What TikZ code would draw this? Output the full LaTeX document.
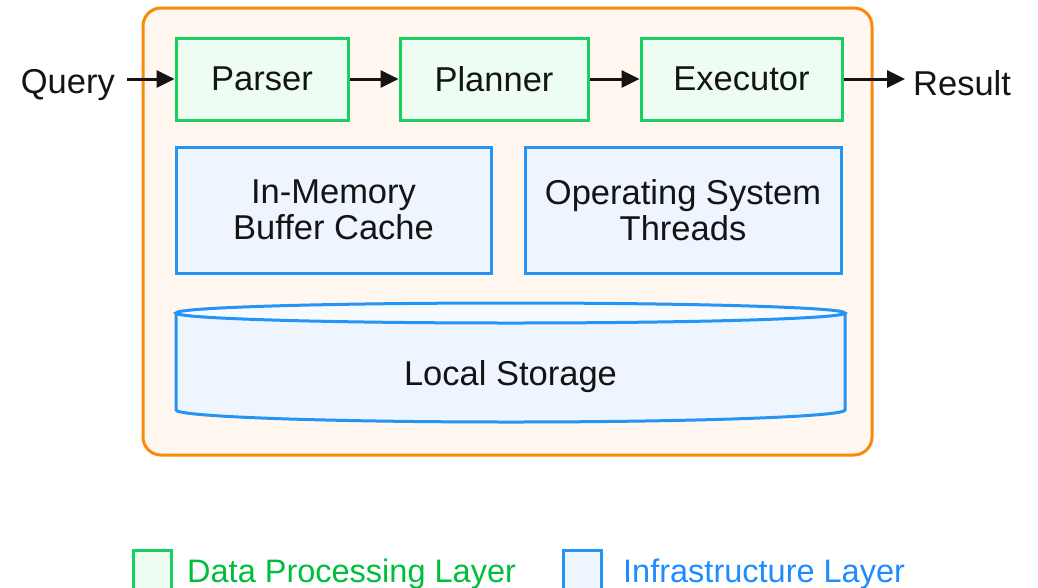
\documentclass[tikz,border=0pt]{standalone}
\usepackage{fontspec}
\setmainfont{Liberation Sans}
\usetikzlibrary{arrows.meta}

\definecolor{procline}{RGB}{24,208,96}
\definecolor{procfill}{RGB}{238,253,242}
\definecolor{infraline}{RGB}{36,148,245}
\definecolor{infrafill}{RGB}{238,245,255}
\definecolor{infratop}{RGB}{247,251,255}
\definecolor{engline}{RGB}{250,138,10}
\definecolor{engfill}{RGB}{255,247,240}
\definecolor{proctext}{RGB}{0,190,60}
\definecolor{infratext}{RGB}{30,140,255}
\definecolor{ink}{RGB}{20,20,20}

\begin{document}
\begin{tikzpicture}[x=1pt,y=-1pt,
  boxtext/.style={font=\fontsize{34.5pt}{36pt}\selectfont, text=ink},
  procbox/.style={draw=procline, fill=procfill, line width=3pt,
    minimum height=82pt, inner sep=0pt, boxtext},
  infrabox/.style={draw=infraline, fill=infrafill, line width=3pt,
    minimum height=126pt, inner sep=0pt, align=center, boxtext},
  flow/.style={draw=ink, line width=3pt, -{Triangle[length=18pt,width=17pt]}},
  legendkey/.style={line width=3pt, minimum width=38pt, minimum height=42pt, inner sep=0pt},
  legendtext/.style={font=\fontsize{32.5pt}{34pt}\selectfont, anchor=base west, inner sep=0pt}]

\useasboundingbox (0,0) rectangle (1038,587);
\clip (0,0) rectangle (1038,587);

% engine container
\node[draw=engline, fill=engfill, line width=3pt, rounded corners=18pt,
  minimum width=729pt, minimum height=447pt, inner sep=0pt] (engine) at (507.5,231.5) {};

% query pipeline
\node[procbox, minimum width=172pt] (parser)   at (262,79)    {Parser};
\node[procbox, minimum width=188pt] (planner)  at (494,79)    {Planner};
\node[procbox, minimum width=201pt] (executor) at (741.5,79)  {Executor};

\node[boxtext, anchor=base east, inner sep=0pt] (query)  at (115,93) {Query};
\node[boxtext, anchor=base west, inner sep=0pt] (result) at (913,95) {Result};

\draw[flow, shorten <=12pt] (query.east |- parser.west) -- (parser.west);
\draw[flow] (parser.east) -- (planner.west);
\draw[flow] (planner.east) -- (executor.west);
\draw[flow, shorten >=8pt] (executor.east) -- (result.west |- executor.east);

% infrastructure
\node[infrabox, minimum width=315pt] (cache)   at (333.5,210) {In-Memory\\Buffer Cache};
\node[infrabox, minimum width=316pt] (threads) at (683,210)   {Operating System\\Threads};

% storage cylinder
\path[fill=infrafill, draw=infraline, line width=3pt]
  (176,313) -- (176,410) arc[start angle=180, end angle=0, x radius=334.5, y radius=12] -- (845,313);
\draw[fill=infratop, draw=infraline, line width=3pt] (510.5,313) ellipse[x radius=334.5, y radius=10];
\node[boxtext, anchor=base, inner sep=0pt] (storage) at (510.5,385) {Local Storage};

% legend
\node[legendkey, draw=procline, fill=procfill] (keyproc) at (152,571) {};
\node[legendtext, text=proctext] (legproc) at (187,582) {Data Processing Layer};
\node[legendkey, draw=infraline, fill=infrafill] (keyinfra) at (582.5,571) {};
\node[legendtext, text=infratext] (leginfra) at (623,582) {Infrastructure Layer};
\end{tikzpicture}
\end{document}
